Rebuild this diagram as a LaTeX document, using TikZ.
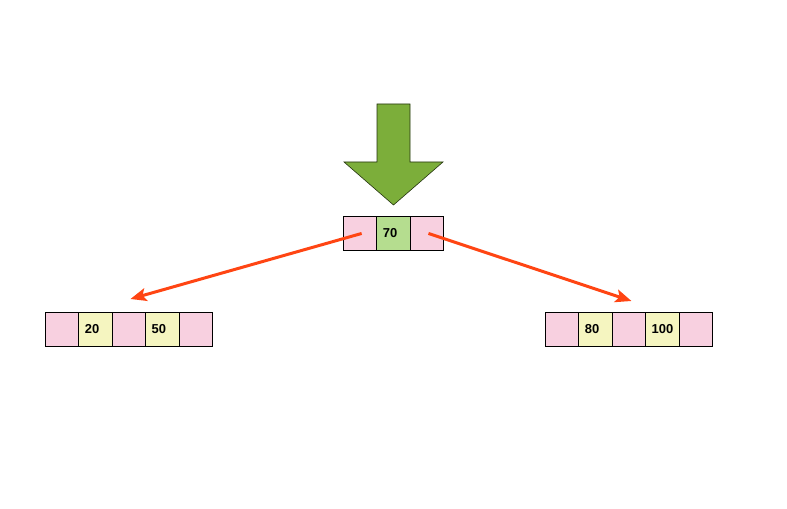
\documentclass[tikz,border=0pt]{standalone}
\usepackage{fontspec}
\setmainfont{Liberation Sans}
\usetikzlibrary{arrows.meta}
\definecolor{cpink}{HTML}{F8D0E0}
\definecolor{cyel}{HTML}{F5F5C0}
\definecolor{cgreen}{HTML}{B5DD8F}
\definecolor{bigarrow}{HTML}{7CAE3A}
\definecolor{ptr}{HTML}{FF4513}
\tikzset{
  cell/.style={draw=black, line width=0.9bp, minimum width=33.4bp, minimum height=34bp,
    inner xsep=6bp, inner ysep=0bp, text width=21.4bp, align=left,
    font=\fontsize{13}{15}\selectfont\bfseries, anchor=north west},
  ptrcell/.style={cell, fill=cpink},
  keycell/.style={cell, fill=cyel},
  rootkey/.style={cell, fill=cgreen},
  pointer/.style={draw=ptr, line width=3bp, -{Stealth[length=16bp,width=13bp,inset=3.5bp]}}
}
\begin{document}
\begin{tikzpicture}[x=1bp,y=-1bp]
\useasboundingbox (0,0) rectangle (787,509);
% big insertion arrow
\draw[fill=bigarrow, draw=black!70!bigarrow, line width=0.6bp]
  (377,104) -- (410,104) -- (410,162) -- (443,162) -- (393.5,205) -- (344,162) -- (377,162) -- cycle;
% root node
\node[ptrcell] (r1) at (343,216) {};
\node[rootkey] (r2) at (376.4,216) {70};
\node[ptrcell] (r3) at (409.8,216) {};
% left node
\node[ptrcell] (l1) at (45,312) {};
\node[keycell] (l2) at (78.4,312) {20};
\node[ptrcell] (l3) at (111.8,312) {};
\node[keycell] (l4) at (145.2,312) {50};
\node[ptrcell] (l5) at (178.6,312) {};
% right node
\node[ptrcell] (q1) at (545,312) {};
\node[keycell] (q2) at (578.4,312) {80};
\node[ptrcell] (q3) at (611.8,312) {};
\node[keycell] (q4) at (645.2,312) {100};
\node[ptrcell] (q5) at (678.6,312) {};
% pointers
\coordinate (lt) at ([xshift=1.5bp,yshift=13bp]l3.north);
\coordinate (rt) at ([xshift=2.5bp,yshift=11bp]q3.north);
\draw[pointer] ([xshift=1.5bp]r1.center) -- (lt);
\draw[pointer] ([xshift=1.5bp]r3.center) -- (rt);
\end{tikzpicture}
\end{document}
